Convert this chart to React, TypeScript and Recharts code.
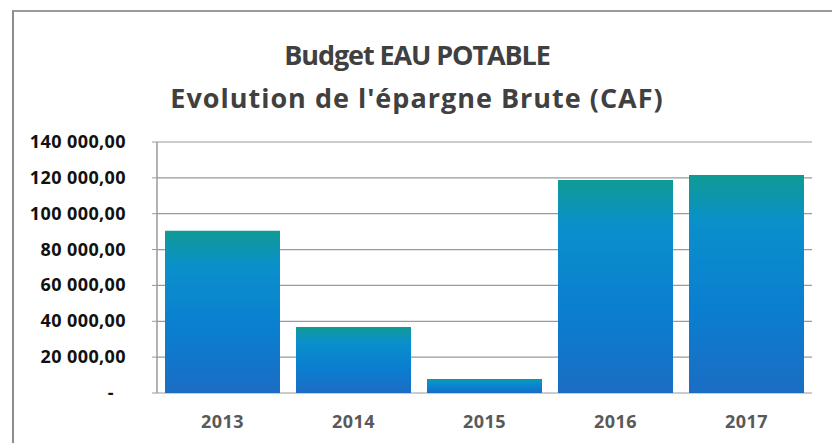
import React from 'react';
import { BarChart, Bar, XAxis, YAxis, CartesianGrid } from 'recharts';

const years = ['2013', '2014', '2015', '2016', '2017'];
const epargne = [90500, 36800, 7800, 118800, 121600];
const yTicks = [0, 20000, 40000, 60000, 80000, 100000, 120000, 140000];
const bandEdges = [0, 1, 2, 3, 4, 5];

const data = years.map((year, i) => ({ year, caf: epargne[i] }));

const fmt = (v: number) => {
  if (v === 0) return '-';
  const [int] = v.toFixed(0).split('.');
  return int.replace(/\B(?=(\d{3})+(?!\d))/g, '\u00a0') + ',00';
};

const YTick = (props: any) => {
  const { x, y, payload } = props;
  const isZero = payload.value === 0;
  return (
    <text
      x={isZero ? x - 12 : x}
      y={y}
      dy={6}
      textAnchor="end"
      fill="#111"
      fontSize={18}
      fontWeight={700}
      letterSpacing={0.4}
      fontFamily="'Open Sans', sans-serif"
    >
      {fmt(payload.value)}
    </text>
  );
};

const App: React.FC = () => {
  return (
    <div
      style={{
        position: 'absolute',
        left: 0,
        top: 0,
        width: 832,
        height: 443,
        background: '#fff',
        fontFamily: "'Open Sans', sans-serif",
      }}
    >
      <div
        style={{
          position: 'absolute',
          left: 12,
          top: 10,
          width: 830,
          height: 440,
          borderLeft: '2px solid #8c8c8c',
          borderTop: '2px solid #9a9a9a',
          boxSizing: 'border-box',
        }}
      />
      <div
        style={{
          position: 'absolute',
          left: 0,
          top: 33,
          width: 834,
          textAlign: 'center',
          color: '#404040',
          fontWeight: 700,
          fontSize: 27,
          lineHeight: '43px',
        }}
      >
        <div style={{ letterSpacing: -1.1 }}>Budget EAU POTABLE</div>
        <div style={{ letterSpacing: 1 }}>Evolution de l'épargne Brute (CAF)</div>
      </div>
      <BarChart
        width={832}
        height={443}
        data={data}
        margin={{ top: 142, right: 20, bottom: 20, left: 0 }}
        barCategoryGap={8}
        style={{ position: 'absolute', left: 0, top: 0 }}
      >
        <defs>
          <linearGradient id="barFill" x1="0" y1="0" x2="0" y2="1">
            <stop offset="0%" stopColor="#109a94" />
            <stop offset="22%" stopColor="#0a90cb" />
            <stop offset="60%" stopColor="#0a7fd0" />
            <stop offset="100%" stopColor="#1b6dc3" />
          </linearGradient>
        </defs>
        <CartesianGrid vertical={false} stroke="#9a9a9a" strokeWidth={1.2} />
        <XAxis
          xAxisId="edges"
          type="number"
          domain={[0, 5]}
          ticks={bandEdges}
          height={0}
          tickSize={6}
          tickFormatter={() => ''}
          stroke="#9a9a9a"
          axisLine={{ stroke: '#9a9a9a', strokeWidth: 1.5 }}
          allowDataOverflow
        />
        <XAxis
          xAxisId="cat"
          dataKey="year"
          height={30}
          axisLine={false}
          tickLine={false}
          tickMargin={16}
          tick={{ fill: '#595959', fontSize: 18, fontWeight: 700, letterSpacing: 0.4 }}
        />
        <YAxis
          width={157}
          domain={[0, 140000]}
          ticks={yTicks}
          interval={0}
          tickSize={5}
          tickMargin={26}
          tick={<YTick />}
          stroke="#9a9a9a"
          axisLine={{ stroke: '#9a9a9a', strokeWidth: 1.5 }}
        />
        <Bar dataKey="caf" xAxisId="cat" fill="url(#barFill)" isAnimationActive={false} />
      </BarChart>
    </div>
  );
};

export default App;
